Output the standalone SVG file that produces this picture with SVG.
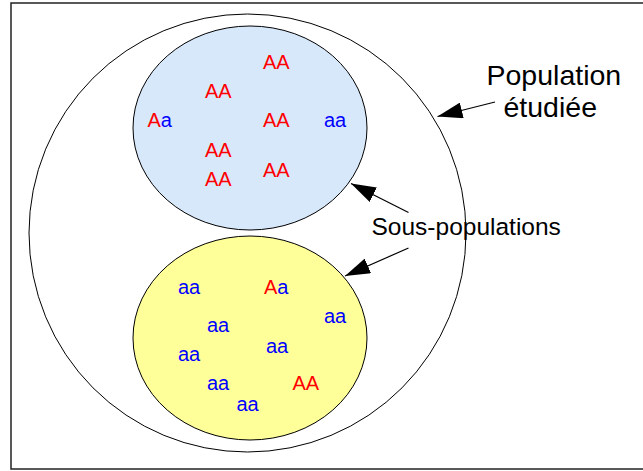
<svg xmlns="http://www.w3.org/2000/svg" width="643" height="471" viewBox="0 0 643 471">
<style>
.g{font-family:"Liberation Sans",Arial,sans-serif;font-size:20px}
.r{fill:#ff0000}
.b{fill:#0000ff}
.lbl{font-family:"Liberation Sans",Arial,sans-serif;fill:#000}
.ell{stroke:#000;stroke-width:1}
.con{stroke:#000;stroke-width:1.2;fill:none}
</style>
<defs>
<marker id="ah" viewBox="0 0 25 16" refX="25" refY="8" markerWidth="25" markerHeight="16" markerUnits="userSpaceOnUse" orient="auto">
<path d="M0,0 L25,8 L0,16 Z" fill="#000"/>
</marker>
</defs>
<rect x="0" y="0" width="643" height="471" fill="#fff"/>
<rect x="11" y="3" width="640" height="466" fill="none" stroke="#222" stroke-width="1.5"/>
<g id="population">
<ellipse class="ell" cx="247.5" cy="233" rx="218.5" ry="219" fill="#fff"/>
</g>
<g id="sub1">
<ellipse class="ell" cx="250" cy="128" rx="117" ry="102" fill="#d8e8fb"/>
<text class="g r" x="263" y="69">AA</text>
<text class="g r" x="205" y="98">AA</text>
<text class="g" x="147.5" y="127"><tspan class="r">A</tspan><tspan class="b">a</tspan></text>
<text class="g r" x="263" y="127">AA</text>
<text class="g b" x="324" y="127">aa</text>
<text class="g r" x="205" y="157">AA</text>
<text class="g r" x="205" y="186">AA</text>
<text class="g r" x="263" y="177">AA</text>
</g>
<g id="sub2">
<ellipse class="ell" cx="250" cy="338" rx="117" ry="102" fill="#ffff99"/>
<text class="g b" x="178" y="294">aa</text>
<text class="g" x="264" y="294"><tspan class="r">A</tspan><tspan class="b">a</tspan></text>
<text class="g b" x="324" y="323">aa</text>
<text class="g b" x="207" y="332">aa</text>
<text class="g b" x="266" y="353">aa</text>
<text class="g b" x="178" y="361">aa</text>
<text class="g b" x="207" y="390">aa</text>
<text class="g r" x="292.5" y="390">AA</text>
<text class="g b" x="236.5" y="411">aa</text>
</g>
<g id="label-population">
<text class="lbl" x="486.5" y="84.5" font-size="28.5">Population</text>
<text class="lbl" x="503.5" y="117" font-size="28.5">étudiée</text>
</g>
<g id="label-sous">
<text class="lbl" x="371.5" y="235" font-size="24.5">Sous-populations</text>
</g>
<g id="connectors">
<line class="con" x1="495" y1="102" x2="437.5" y2="116.5" marker-end="url(#ah)"/>
<line class="con" x1="408.5" y1="212.5" x2="351" y2="183.5" marker-end="url(#ah)"/>
<line class="con" x1="408.5" y1="248" x2="345" y2="276" marker-end="url(#ah)"/>
</g>
</svg>
